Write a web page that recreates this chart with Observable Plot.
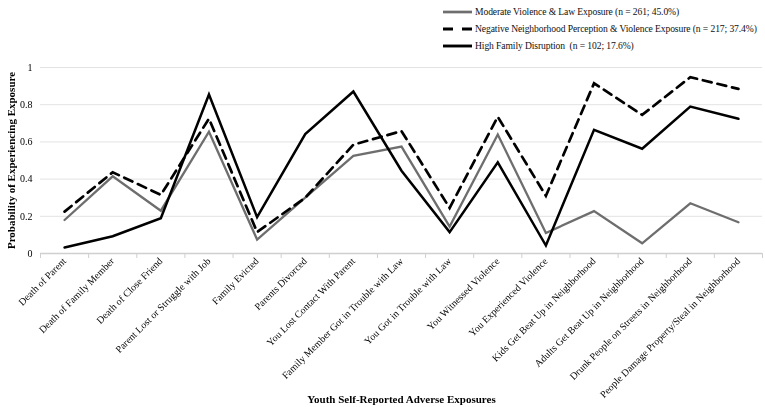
<!DOCTYPE html>
<html><head><meta charset="utf-8">
<script src="https://cdn.jsdelivr.net/npm/d3@7"></script>
<script src="https://cdn.jsdelivr.net/npm/@observablehq/plot@0.6"></script>
<style>
body{margin:0;background:#fff;}
#wrap{position:relative;width:765px;height:407px;font-family:"Liberation Serif","Times New Roman",serif;}
#legend{position:absolute;left:443px;top:3px;font-size:9.6px;letter-spacing:-0.1px;color:#111;}
.row{display:flex;align-items:center;height:17px;white-space:pre;}
.row svg{margin-right:2px;}
g[aria-label="y-axis label"] text, g[aria-label="x-axis label"] text{font-weight:bold;font-size:11px;}
g[aria-label="x-axis tick label"]{opacity:0.999;will-change:transform;}
</style></head>
<body><div id="wrap"><div id="legend"></div></div>
<script>
const categories = [
  "Death of Parent","Death of Family Member","Death of Close Friend","Parent Lost or Struggle with Job",
  "Family Evicted","Parents Divorced","You Lost Contact With Parent","Family Member Got in Trouble with Law",
  "You Got in Trouble with Law","You Witnessed Violence","You Experienced Violence","Kids Get Beat Up in Neighborhood",
  "Adults Get Beat Up in Neighborhood","Drunk People on Streets in Neighborhood","People Damage Property/Steal in Neighborhood"
];
const moderate   = [0.18,0.415,0.23,0.655,0.075,0.30,0.525,0.575,0.145,0.64,0.11,0.228,0.055,0.27,0.168];
const negative   = [0.225,0.437,0.315,0.725,0.115,0.30,0.585,0.658,0.245,0.735,0.31,0.915,0.745,0.948,0.885];
const highFamily = [0.032,0.093,0.19,0.855,0.195,0.642,0.871,0.445,0.115,0.49,0.043,0.665,0.563,0.79,0.724];
const seriesNames = [
  "Moderate Violence & Law Exposure (n = 261; 45.0%)",
  "Negative Neighborhood Perception & Violence Exposure (n = 217; 37.4%)",
  "High Family Disruption  (n = 102; 17.6%)"
];
const yTicks = [0, 0.2, 0.4, 0.6, 0.8, 1];

const idx = categories.map((_, i) => i);
const bounds = categories.map((_, i) => i - 0.5).concat([categories.length - 0.5]);

const seriesStyle = [
  {stroke: "#6e6e6e", strokeWidth: 2.3, dash: null},
  {stroke: "#000", strokeWidth: 2.7, dash: "9,6"},
  {stroke: "#000", strokeWidth: 2.5, dash: null}
];
const seriesData = [moderate, negative, highFamily];

const chart = Plot.plot({
  width: 765, height: 407,
  marginTop: 67, marginBottom: 154, marginLeft: 40, marginRight: 3,
  style: {fontFamily: '"Liberation Serif","Times New Roman",serif', fontSize: "10px", background: "#fff", color: "#000"},
  x: {type: "linear", domain: [-0.5, categories.length - 0.5]},
  y: {domain: [0, 1]},
  marks: [
    Plot.gridY(yTicks.filter(d => d > 0), {stroke: "#e3e3e3", strokeOpacity: 1}),
    Plot.ruleY([0], {stroke: "#cfcfcf", strokeWidth: 1.5}),
    Plot.axisX(bounds, {tickSize: 5, tickFormat: () => "", stroke: "#cfcfcf", label: null}),
    Plot.axisX(idx, {tickSize: 0, tickPadding: 6, tickRotate: -45, tickFormat: i => categories[i], fill: "#000",
      label: "Youth Self-Reported Adverse Exposures", labelAnchor: "center", labelOffset: 149, labelArrow: "none", fontSize: 10}),
    Plot.axisY(yTicks, {tickSize: 0, tickPadding: 8, tickFormat: d => String(d), fill: "#000",
      label: "Probability of Experiencing Exposure", labelAnchor: "center", labelOffset: 33, labelArrow: "none", fontSize: 10}),
    ...[0, 2, 1].map(k => Plot.line(seriesData[k], {
      x: (d, i) => i, y: d => d,
      stroke: seriesStyle[k].stroke, strokeWidth: seriesStyle[k].strokeWidth,
      strokeDasharray: seriesStyle[k].dash, strokeLinejoin: "miter", strokeMiterlimit: 10
    }))
  ]
});
document.getElementById("wrap").appendChild(chart);

// legend
const legend = d3.select("#legend");
seriesNames.forEach((name, k) => {
  const row = legend.append("div").attr("class", "row");
  const svg = row.append("svg").attr("width", 30).attr("height", 8);
  svg.append("line").attr("x1", 0).attr("x2", 29).attr("y1", 4).attr("y2", 4)
    .attr("stroke", seriesStyle[k].stroke).attr("stroke-width", seriesStyle[k].strokeWidth + 0.4)
    .attr("stroke-dasharray", k === 1 ? "10,9" : null);
  row.append("span").text(name);
});
</script>
</body></html>
